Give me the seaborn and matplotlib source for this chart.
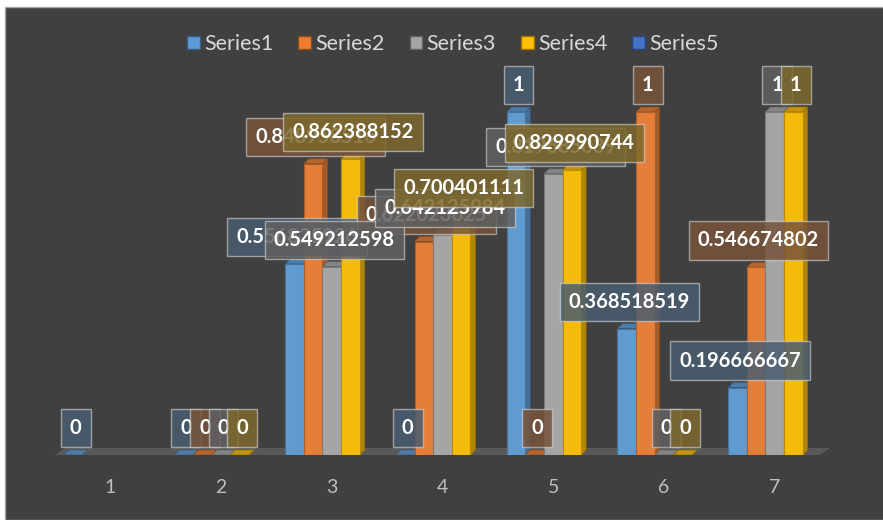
import numpy as np
import pandas as pd
import matplotlib
matplotlib.use("Agg")
import matplotlib.pyplot as plt
import matplotlib.colors as mcolors
from matplotlib.patches import Polygon, Rectangle, Patch
import seaborn as sns

nan = np.nan
categories = ["1", "2", "3", "4", "5", "6", "7"]
series_names = ["Series1", "Series2", "Series3", "Series4", "Series5"]
series1 = [0, 0, 0.556825926, 0, 1, 0.368518519, 0.196666667]
series2 = [nan, 0, 0.848958516, 0.622023625, 0, 1, 0.546674802]
series3 = [nan, 0, 0.549212598, 0.642125984, 0.819685039, 0, 1]
series4 = [nan, 0, 0.862388152, 0.700401111, 0.829990744, 0, 1]
series5 = [nan, nan, nan, nan, nan, nan, nan]
colors = ["#5B9BD5", "#ED7D31", "#A5A5A5", "#FFC000", "#4472C4"]

all_series = [series1, series2, series3, series4, series5]
rows = []
for name, vals in zip(series_names, all_series):
    for c, v in zip(categories, vals):
        if not np.isnan(v):
            rows.append({"cat": c, "series": name, "value": v})
df = pd.DataFrame(rows)

BG = "#404040"
W, H, DPI = 883, 520, 100
fig = plt.figure(figsize=(W / DPI, H / DPI), dpi=DPI, facecolor="white")
fig.patches.append(Rectangle((5 / W, 0), 1, 1 - 7 / H, transform=fig.transFigure,
                             facecolor=BG, edgecolor="#A6A6A6", lw=1.0, zorder=-10))

ax_l, ax_b = 55 / W, 65 / H
ax_w, ax_h = 775 / W, 1.2 * 343 / H
ax = fig.add_axes([ax_l, ax_b, ax_w, ax_h])
ax.set_facecolor("none")

palette = dict(zip(series_names, colors))
sns.barplot(data=df, x="cat", y="value", hue="series", order=categories,
            hue_order=series_names, palette=palette, width=0.84, saturation=0.92,
            errorbar=None, legend=False, ax=ax)

ax.set_xlim(-0.5, 6.5)
ax.set_ylim(0, 1.2)
for s in ax.spines.values():
    s.set_visible(False)
ax.set_yticks([])
ax.set_xlabel("")
ax.set_ylabel("")
ax.tick_params(axis="x", length=0, pad=17, labelsize=14, labelcolor="#BFBFBF")
for t in ax.get_xticklabels():
    t.set_fontfamily("Lato")

px_x = ax_w * W / 7.0
px_y = ax_h * H / 1.2
dx, dy = 5 / px_x, 5 / px_y


def shade(c, f):
    r, g, b = mcolors.to_rgb(c)
    return (r * f, g * f, b * f)


# floor
fdx, fdy = 10 / px_x, 7 / px_y
floor = Polygon([(-0.5, 0), (6.5 - fdx, 0), (6.5, fdy), (-0.5 + fdx, fdy)],
                closed=True, facecolor="#595959", edgecolor="none", zorder=1,
                clip_on=False)
ax.add_patch(floor)

bars = []
for p in list(ax.patches):
    if p is floor:
        continue
    h = p.get_height()
    if h is None or not np.isfinite(h):
        continue
    fc = np.array(p.get_facecolor()[:3])
    rgb_list = [np.array(mcolors.to_rgb(sns.desaturate(c, 0.92))) for c in colors]
    idx = int(np.argmin([np.sum((fc - c) ** 2) for c in rgb_list]))
    base = sns.desaturate(colors[idx], 0.92)
    x0, w = p.get_x(), p.get_width()
    z = 2 + x0 * 0.05
    p.set_zorder(z)
    p.set_edgecolor(shade(base, 0.75))
    p.set_linewidth(0.8)
    side = Polygon([(x0 + w, 0), (x0 + w + dx, dy), (x0 + w + dx, h + dy), (x0 + w, h)],
                   closed=True, facecolor=shade(base, 0.72),
                   edgecolor=shade(base, 0.6), lw=0.6, zorder=z - 0.01)
    top = Polygon([(x0, h), (x0 + dx, h + dy), (x0 + w + dx, h + dy), (x0 + w, h)],
                  closed=True, facecolor=shade(base, 0.8),
                  edgecolor=shade(base, 0.6), lw=0.6, zorder=z - 0.01)
    ax.add_patch(side)
    ax.add_patch(top)
    bars.append((idx, x0, w, h))

bg_rgb = np.array(mcolors.to_rgb(BG))
for idx in range(len(series_names)):
    for (i, x0, w, h) in bars:
        if i != idx:
            continue
        col = np.array(mcolors.to_rgb(colors[idx]))
        fcol = tuple(col * 0.32 + bg_rgb * 0.68) + (0.85,)
        txt = "%.9g" % h
        ax.annotate(txt, xy=(x0 + w / 2 + dx / 2, h), xytext=(0, 27),
                    textcoords="offset pixels", ha="center", va="center",
                    fontsize=14.5, fontweight="bold", color="white",
                    fontfamily="Lato", zorder=20 + idx, annotation_clip=False,
                    bbox=dict(boxstyle="square,pad=0.45", facecolor=fcol,
                              edgecolor=(0.85, 0.85, 0.85, 0.6), lw=1.0))

handles = [Patch(facecolor=c, edgecolor=shade(c, 0.6), lw=1.0) for c in colors]
leg = fig.legend(handles, series_names, loc="center", bbox_to_anchor=(0.513, 0.915),
                 ncol=5, frameon=False, handlelength=0.6,
                 handleheight=0.6, handletextpad=0.2, columnspacing=1.15,
                 prop={"family": "Lato", "size": 15.5})
for t in leg.get_texts():
    t.set_color("#D9D9D9")

fig.savefig("out.png", dpi=DPI, facecolor=fig.get_facecolor())
